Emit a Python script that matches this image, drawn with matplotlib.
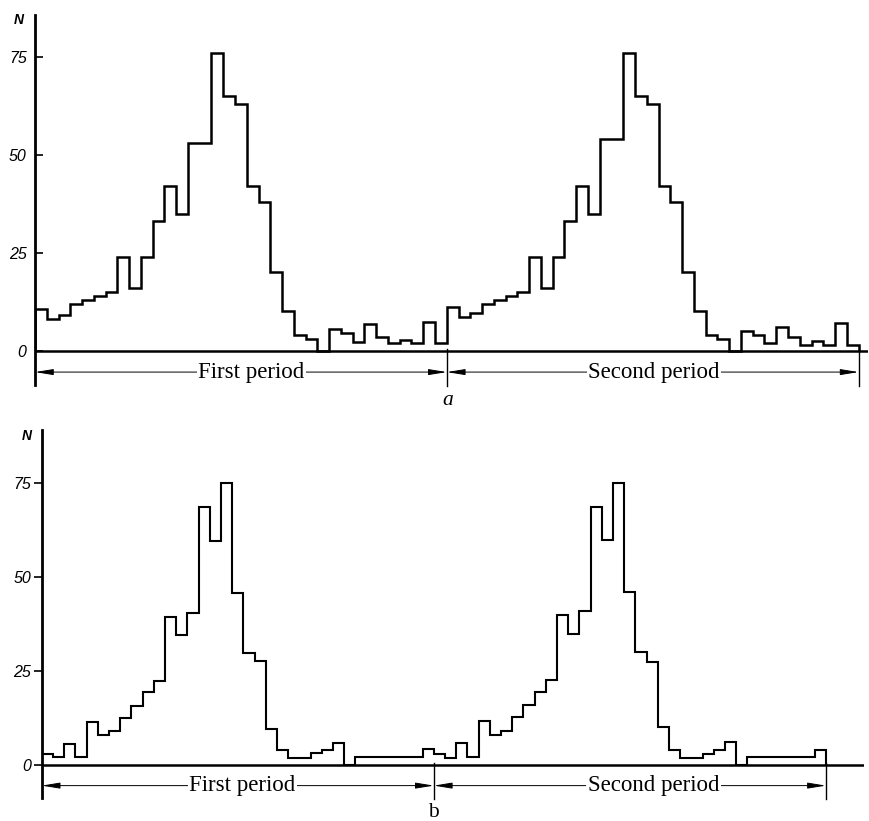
import numpy as np
import matplotlib
matplotlib.use("Agg")
import matplotlib.pyplot as plt

# Histogram counts per phase bin (35 bins per period)
a_first = [10.5, 8, 9, 12, 13, 14, 15, 24, 16, 24, 33, 42, 35, 53, 53, 76, 65, 63,
           42, 38, 20, 10, 4, 3, 0, 5.5, 4.5, 2.3, 6.7, 3.5, 2, 2.7, 2, 7.4, 2]
a_second = [11, 8.5, 9.5, 12, 13, 14, 15, 24, 16, 24, 33, 42, 35, 54, 54, 76, 65, 63,
            42, 38, 20, 10, 4, 3, 0, 5, 4, 2, 6, 3.5, 1.5, 2.5, 1.5, 7, 1.5]
b_first = [3, 2, 5.6, 2, 11.5, 8, 9, 12.6, 15.7, 19.5, 22.4, 39.5, 34.6, 40.5, 68.6,
           59.6, 75, 45.9, 29.7, 27.7, 9.5, 4, 1.8, 1.8, 3.1, 4, 5.9, 0, 2, 2, 2, 2, 2, 2, 4.2]
b_second = [3, 1.8, 5.8, 2, 11.7, 8, 9, 12.9, 16, 19.5, 22.6, 40, 35, 41, 68.8,
            59.9, 75, 46, 30, 27.5, 10, 4, 1.8, 1.8, 3, 4, 6, 0, 2, 2, 2, 2, 2, 2, 4]

yticks = [0, 25, 50, 75]
period_labels = ["First period", "Second period"]

tick_font = dict(family=["Liberation Sans", "DejaVu Sans"], style="italic", size=11.5)
serif = ["Liberation Serif", "DejaVu Serif"]

fig = plt.figure(figsize=(8.69, 8.21), dpi=100)


def draw_panel(ax, first, second, xmax, ylo, yhi, lw, tick_dir, tick_pad,
               label_x, panel_tag, tag_xy, n_xy):
    nbins = len(first)
    counts = np.concatenate([first, second])
    edges = np.arange(len(counts) + 1)
    ax.stairs(counts, edges, color="black", linewidth=lw, baseline=0)

    ax.set_xlim(0, xmax)
    ax.set_ylim(ylo, yhi)
    for s in ["top", "right", "bottom"]:
        ax.spines[s].set_visible(False)
    ax.spines["left"].set_linewidth(2.0)
    ax.axhline(0, color="black", linewidth=1.8, zorder=1)
    ax.set_xticks([])
    ax.set_yticks(yticks)
    ax.set_yticklabels([str(t) for t in yticks], fontdict=tick_font)
    ax.tick_params(axis="y", direction=tick_dir, length=6, width=1.2, pad=tick_pad)
    ax.text(n_xy[0], n_xy[1], "N", ha="center", va="center",
            family=["Liberation Sans", "DejaVu Sans"], style="italic",
            weight="bold", size=10, clip_on=False)

    # period markers and arrows below the axis
    ya = -5.5
    for xm in [nbins, 2 * nbins]:
        ax.plot([xm, xm], [0.5, -9.0], color="black", linewidth=1.0, clip_on=False)
    for i, (x0, x1) in enumerate([(0, nbins), (nbins, 2 * nbins)]):
        ax.annotate("", xy=(x0, ya), xytext=(x1, ya), annotation_clip=False,
                    arrowprops=dict(arrowstyle="<|-|>,head_length=1.1,head_width=0.18",
                                    color="black", lw=0.7, shrinkA=0, shrinkB=0))
        ax.text(label_x[i], ya, period_labels[i], ha="center", va="center",
                family=serif, size=16.5,
                bbox=dict(facecolor="white", edgecolor="none", pad=1.0))
    ax.text(tag_xy[0], tag_xy[1], panel_tag[0], ha="center", va="center",
            family=serif, style=panel_tag[1], size=15.5, clip_on=False)


# panel a
ax1 = fig.add_axes([35 / 869, (821 - 385) / 821, (868 - 35) / 869, 370 / 821])
draw_panel(ax1, a_first, a_second, 70.8, -8.8, 85.7, 1.8, "in", 6,
           [18.4, 52.6], ("a", "italic"), (35.1, -12.8), (-1.4, 84.5))

# panel b
ax2 = fig.add_axes([41.7 / 869, (821 - 798) / 821, (864 - 41.7) / 869, 368 / 821])
draw_panel(ax2, b_first, b_second, 73.4, -8.8, 89.2, 1.5, "out", 1.5,
           [17.9, 54.6], ("b", "normal"), (35.0, -12.6), (-1.3, 87.5))

fig.savefig("out.png", dpi=100, facecolor="white")
